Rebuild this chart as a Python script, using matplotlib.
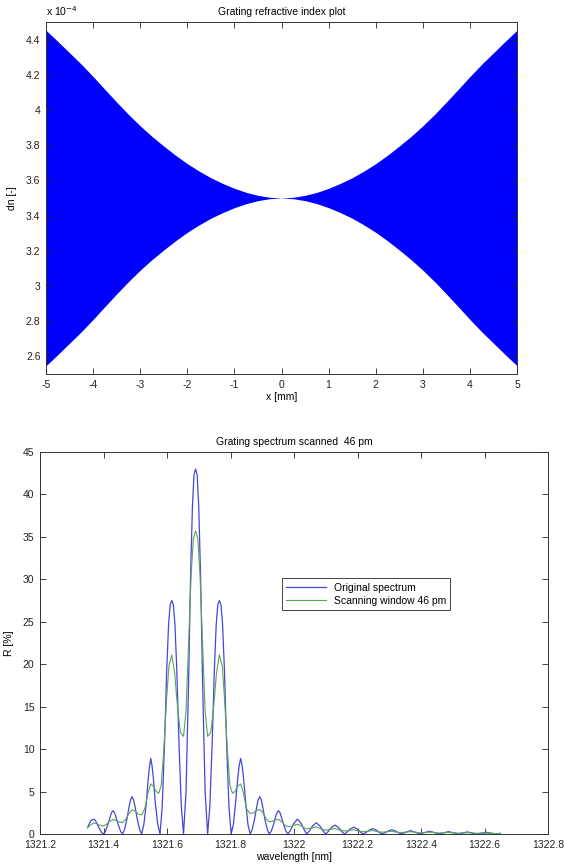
import numpy as np
import matplotlib
matplotlib.use('Agg')
import matplotlib.pyplot as plt
from matplotlib.ticker import FormatStrFormatter

plt.rcParams['font.family'] = ['Liberation Sans', 'DejaVu Sans']
plt.rcParams['font.size'] = 7.5
plt.rcParams['axes.unicode_minus'] = False

# --- grating refractive index: centre value and envelope half-width (units 1e-4) ---
dn_center = 3.5
env_x = [0, 0.25, 0.5, 0.75, 1, 1.25, 1.5, 1.75, 2, 2.25, 2.5,
         2.75, 3, 3.25, 3.5, 3.75, 4, 4.25, 4.5, 4.75, 5]
env_amp = [0, 0.004, 0.015, 0.032, 0.055, 0.083, 0.115, 0.153, 0.195, 0.243, 0.295,
           0.35, 0.41, 0.475, 0.545, 0.617, 0.69, 0.76, 0.825, 0.89, 0.953]
x_ticks_top = [-5, -4, -3, -2, -1, 0, 1, 2, 3, 4, 5]
y_ticks_top = [2.6, 2.8, 3.0, 3.2, 3.4, 3.6, 3.8, 4.0, 4.2, 4.4]

# --- grating spectrum: original (blue) ---
wl_orig = [
    1321.350, 1321.355, 1321.360, 1321.365, 1321.370, 1321.375, 1321.380, 1321.386, 1321.394, 1321.400,
    1321.406, 1321.414, 1321.420, 1321.425, 1321.430, 1321.435, 1321.440, 1321.446, 1321.454, 1321.460,
    1321.466, 1321.474, 1321.480, 1321.485, 1321.490, 1321.495, 1321.500, 1321.506, 1321.514, 1321.520,
    1321.527, 1321.535, 1321.540, 1321.545, 1321.549, 1321.553, 1321.558, 1321.563, 1321.571, 1321.578,
    1321.585, 1321.593, 1321.599, 1321.605, 1321.610, 1321.615, 1321.620, 1321.625, 1321.631, 1321.637, 1321.645, 1321.652,
    1321.660, 1321.668, 1321.674, 1321.680, 1321.685, 1321.690, 1321.695, 1321.700, 1321.706, 1321.712, 1321.720, 1321.728,
    1321.735, 1321.743, 1321.749, 1321.755, 1321.760, 1321.765, 1321.770, 1321.775, 1321.781, 1321.787, 1321.795, 1321.802,
    1321.809, 1321.816, 1321.822, 1321.827, 1321.832, 1321.837, 1321.842, 1321.848, 1321.855, 1321.862,
    1321.868, 1321.876, 1321.882, 1321.887, 1321.892, 1321.897, 1321.902, 1321.908, 1321.916, 1321.922,
    1321.928, 1321.936, 1321.941, 1321.946, 1321.951, 1321.956, 1321.961, 1321.967, 1321.975, 1321.981,
    1321.989, 1321.999, 1322.011, 1322.023, 1322.033, 1322.040,
    1322.048, 1322.058, 1322.070, 1322.082, 1322.092, 1322.100,
    1322.107, 1322.117, 1322.129, 1322.141, 1322.151, 1322.159,
    1322.166, 1322.176, 1322.188, 1322.200, 1322.210, 1322.218,
    1322.226, 1322.236, 1322.248, 1322.260, 1322.270, 1322.278,
    1322.286, 1322.296, 1322.308, 1322.320, 1322.330, 1322.338,
    1322.352, 1322.367, 1322.382, 1322.397,
    1322.412, 1322.427, 1322.442, 1322.457,
    1322.472, 1322.487, 1322.502, 1322.517,
    1322.531, 1322.546, 1322.561, 1322.576,
    1322.591, 1322.606, 1322.621, 1322.636, 1322.650,
]
r_orig = [
    0.75, 1.2, 1.55, 1.7, 1.73, 1.55, 1.2, 0.7, 0.2, 0.0,
    0.3, 1.15, 1.9, 2.5, 2.75, 2.5, 1.9, 1.15, 0.3, 0.0,
    0.5, 1.8, 3.1, 4.0, 4.4, 4.0, 3.1, 1.8, 0.5, 0.0,
    1.1, 3.7, 6.2, 8.0, 8.9, 8.0, 6.2, 3.7, 1.1, 0.0,
    3.3, 11.5, 19.2, 24.7, 27.0, 27.5, 27.0, 24.7, 19.2, 11.5, 3.3, 0.0,
    5.0, 18.0, 30.0, 38.5, 42.3, 43.0, 42.3, 38.5, 30.0, 18.0, 5.0, 0.0,
    3.3, 11.5, 19.2, 24.7, 27.0, 27.5, 27.0, 24.7, 19.2, 11.5, 3.3, 0.0,
    1.1, 3.7, 6.2, 8.0, 8.9, 8.0, 6.2, 3.7, 1.1, 0.0,
    0.5, 1.8, 3.1, 4.0, 4.4, 4.0, 3.1, 1.8, 0.5, 0.0,
    0.3, 1.15, 1.9, 2.5, 2.75, 2.5, 1.9, 1.15, 0.3, 0.0,
    0.44, 1.22, 1.75, 1.22, 0.44, 0.0,
    0.33, 0.93, 1.33, 0.93, 0.33, 0.0,
    0.26, 0.74, 1.05, 0.74, 0.26, 0.0,
    0.2, 0.56, 0.8, 0.56, 0.2, 0.0,
    0.16, 0.44, 0.63, 0.44, 0.16, 0.0,
    0.13, 0.35, 0.5, 0.35, 0.13, 0.0,
    0.2, 0.4, 0.2, 0.0,
    0.17, 0.33, 0.17, 0.0,
    0.14, 0.28, 0.14, 0.0,
    0.12, 0.24, 0.12, 0.0,
    0.1, 0.2, 0.1, 0.0, 0.08,
]

# --- scanned with 46 pm window (green) ---
wl_scan = [
    1321.350, 1321.360, 1321.370, 1321.380, 1321.390, 1321.400, 1321.410, 1321.420, 1321.430, 1321.440,
    1321.450, 1321.460, 1321.470, 1321.480, 1321.490, 1321.500, 1321.510, 1321.520, 1321.530, 1321.540,
    1321.549, 1321.558, 1321.566, 1321.574, 1321.582, 1321.590, 1321.598, 1321.606, 1321.615, 1321.624,
    1321.633, 1321.642, 1321.652, 1321.660, 1321.668, 1321.676, 1321.683, 1321.690, 1321.697, 1321.704,
    1321.712, 1321.720, 1321.728, 1321.738, 1321.747, 1321.756, 1321.765, 1321.774, 1321.782, 1321.790,
    1321.798, 1321.806, 1321.814, 1321.822, 1321.832, 1321.841, 1321.850, 1321.862, 1321.872, 1321.882,
    1321.892, 1321.902, 1321.912, 1321.922, 1321.932, 1321.941, 1321.951, 1321.961, 1321.971, 1321.981,
    1321.991, 1322.001, 1322.011, 1322.021, 1322.031, 1322.041, 1322.055, 1322.070, 1322.085, 1322.100,
    1322.115, 1322.129, 1322.144, 1322.159, 1322.174, 1322.188, 1322.203, 1322.218, 1322.233, 1322.248,
    1322.263, 1322.278, 1322.293, 1322.308, 1322.323, 1322.338, 1322.367, 1322.397, 1322.427, 1322.457,
    1322.487, 1322.517, 1322.546, 1322.576, 1322.606, 1322.636, 1322.650,
]
r_scan = [
    0.75, 1.1, 1.3, 1.2, 1.0, 0.95, 1.15, 1.5, 1.7, 1.6,
    1.4, 1.35, 1.7, 2.4, 2.85, 2.7, 2.35, 2.25, 3.0, 4.8,
    5.9, 5.6, 5.0, 4.8, 5.8, 10.0, 15.5, 19.8, 21.1, 19.0,
    15.0, 12.0, 11.5, 14.5, 22.5, 30.5, 34.8, 35.7, 34.8, 30.5,
    22.5, 14.5, 11.5, 12.0, 15.0, 19.0, 21.1, 19.8, 15.5, 10.0,
    5.8, 4.8, 5.0, 5.6, 5.9, 4.8, 3.0, 2.4, 2.5, 2.75,
    2.9, 2.5, 1.8, 1.45, 1.5, 1.65, 1.73, 1.45, 1.05, 0.86,
    0.9, 1.05, 1.14, 1.0, 0.75, 0.6, 0.7, 0.85, 0.6, 0.45,
    0.55, 0.65, 0.45, 0.35, 0.42, 0.5, 0.35, 0.27, 0.33, 0.4,
    0.28, 0.21, 0.27, 0.32, 0.22, 0.17, 0.27, 0.14, 0.22, 0.12,
    0.18, 0.1, 0.15, 0.08, 0.12, 0.05, 0.06,
]
x_ticks_bot = [1321.2, 1321.4, 1321.6, 1321.8, 1322.0, 1322.2, 1322.4, 1322.6, 1322.8]
y_ticks_bot = [0, 5, 10, 15, 20, 25, 30, 35, 40, 45]


def matlab_axes(ax):
    for s in ax.spines.values():
        s.set_linewidth(0.7)
        s.set_color('#333333')
    ax.tick_params(direction='in', length=4, width=0.6, top=True, right=True,
                   labelsize=7.5, pad=4, colors='#222222')


fig = plt.figure(figsize=(5.64, 8.65), dpi=100)

# top plot
ax1 = fig.add_axes([46/564, 1-374/865, 471/564, 352/865])
pos = np.array(env_x)
amp = np.array(env_amp)
xs = np.concatenate([-pos[::-1], pos[1:]])
a = np.concatenate([amp[::-1], amp[1:]])
ax1.fill_between(xs, dn_center - a, dn_center + a, color='#0000ff', linewidth=0)
ax1.set_xlim(-5, 5)
ax1.set_ylim(2.5, 4.5)
ax1.set_xticks(x_ticks_top)
ax1.set_yticks(y_ticks_top)
ax1.yaxis.set_major_formatter(FormatStrFormatter('%g'))
matlab_axes(ax1)
ax1.set_title('Grating refractive index plot', fontsize=7.5, pad=5)
ax1.set_xlabel('x [mm]', fontsize=7.5, labelpad=2)
ax1.set_ylabel('dn [-]', fontsize=7.5, labelpad=6)
ax1.text(0, 1.012, 'x 10$^{-4}$', transform=ax1.transAxes, fontsize=7.5, va='bottom', ha='left')

# bottom plot
ax2 = fig.add_axes([40/564, 1-834/865, 508/564, 382/865])
ax2.plot(wl_orig, r_orig, color='#4646dc', linewidth=0.9, label='Original spectrum')
ax2.plot(wl_scan, r_scan, color='#5aa55a', linewidth=0.8, label='Scanning window 46 pm')
ax2.set_xlim(1321.2, 1322.8)
ax2.set_ylim(0, 45)
ax2.set_xticks(x_ticks_bot)
ax2.set_yticks(y_ticks_bot)
ax2.xaxis.set_major_formatter(FormatStrFormatter('%g'))
matlab_axes(ax2)
ax2.set_title('Grating spectrum scanned  46 pm', fontsize=7.5, pad=5)
ax2.set_xlabel('wavelength [nm]', fontsize=7.5, labelpad=2)
ax2.set_ylabel('R [%]', fontsize=7.5, labelpad=6)
leg = ax2.legend(loc='lower left', bbox_to_anchor=(0.466, 0.573), fontsize=7.5,
                 fancybox=False, edgecolor='#444444', handlelength=3.8,
                 borderpad=0.4, labelspacing=0.3, framealpha=1)
leg.get_frame().set_linewidth(0.7)

fig.savefig('out.png', dpi=100)
